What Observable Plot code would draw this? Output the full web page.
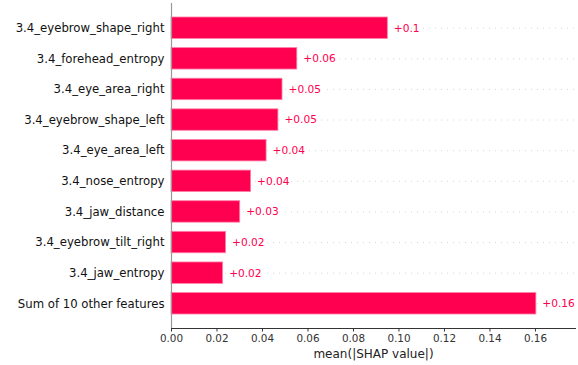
<!DOCTYPE html>
<html>
<head>
<meta charset="utf-8">
<script src="https://cdn.jsdelivr.net/npm/d3@7"></script>
<script src="https://cdn.jsdelivr.net/npm/@observablehq/plot@0.6"></script>
<style>
  html, body { margin: 0; padding: 0; background: #fff; }
  #chart { width: 578px; height: 365px; }
</style>
</head>
<body>
<div id="chart"></div>
<script>
const features = [
  "3.4_eyebrow_shape_right",
  "3.4_forehead_entropy",
  "3.4_eye_area_right",
  "3.4_eyebrow_shape_left",
  "3.4_eye_area_left",
  "3.4_nose_entropy",
  "3.4_jaw_distance",
  "3.4_eyebrow_tilt_right",
  "3.4_jaw_entropy",
  "Sum of 10 other features"
];
const meanAbsShap = [0.0951, 0.0553, 0.0488, 0.0470, 0.0418, 0.0350, 0.0302, 0.0240, 0.0227, 0.1604];
const valueLabels = ["+0.1", "+0.06", "+0.05", "+0.05", "+0.04", "+0.04", "+0.03", "+0.02", "+0.02", "+0.16"];
const xTicks = [0, 0.02, 0.04, 0.06, 0.08, 0.10, 0.12, 0.14, 0.16];
const xLabel = "mean(|SHAP value|)";

const data = features.map((f, i) => ({feature: f, value: meanAbsShap[i], label: valueLabels[i]}));
const RED = "#ff0051";

const chart = Plot.plot({
  width: 578,
  height: 365,
  marginLeft: 171,
  marginRight: 3,
  marginTop: 3,
  marginBottom: 37,
  style: {fontFamily: "DejaVu Sans, sans-serif", background: "#fff"},
  x: {domain: [0, 0.1776], ticks: xTicks, tickFormat: d => d.toFixed(2)},
  y: {domain: features, paddingInner: 0.3, paddingOuter: 0.457, align: 0.5, round: false},
  marks: [
    Plot.ruleY(features, {y: d => d, stroke: "#cccccc", strokeWidth: 0.8, strokeDasharray: "1,5"}),
    Plot.barX(data, {y: "feature", x: "value", fill: RED, stroke: "#ff80a8", strokeWidth: 0.8}),
    Plot.text(data, {y: "feature", x: "value", text: "label", textAnchor: "start", dx: 6, fill: RED, fontSize: 10.6, stroke: "white", strokeWidth: 3}),
    Plot.ruleX([0], {stroke: "#999999", strokeWidth: 1.2}),
    Plot.frame({anchor: "bottom", stroke: "#333333", strokeWidth: 1}),
    Plot.axisY({tickSize: 0, tickPadding: 7, fontSize: 11.7, fill: "#111", label: null}),
    Plot.axisX({ticks: xTicks, tickFormat: d => d.toFixed(2), tickSize: 3.5, tickPadding: 3, fontSize: 10.4, fill: "#333", stroke: "#333", label: null}),
    Plot.text([xLabel], {frameAnchor: "bottom", text: d => d, dy: 29, fontSize: 12, fill: "#222"})
  ]
});
document.getElementById("chart").appendChild(chart);
</script>
</body>
</html>
